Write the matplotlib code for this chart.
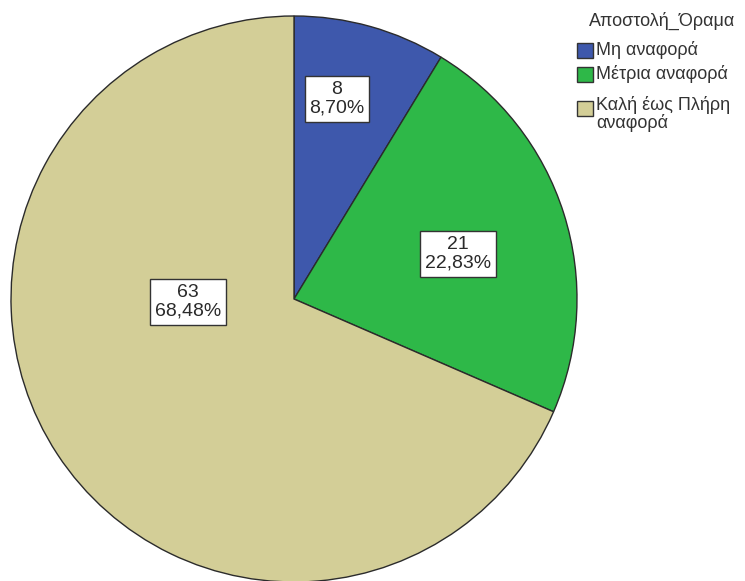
import matplotlib
matplotlib.use("Agg")
import matplotlib.pyplot as plt
from matplotlib.patches import Rectangle

# Data
categories = ["Μη αναφορά", "Μέτρια αναφορά", "Καλή έως Πλήρη\nαναφορά"]
counts = [8, 21, 63]
percent_labels = ["8,70%", "22,83%", "68,48%"]
colors = ["#3e58ac", "#2eb848", "#d3ce97"]
legend_title = "Αποστολή_Όραμα"

plt.rcParams["font.family"] = ["Liberation Sans", "DejaVu Sans"]

W, H = 745, 581
fig = plt.figure(figsize=(W / 100, H / 100), dpi=100)
ax = fig.add_axes([0, 0, 1, 1])

cx, cy, r = 294, H - 299, 283
ax.pie(counts, colors=colors, startangle=90, counterclock=False,
       center=(cx, cy), radius=r, frame=True,
       wedgeprops=dict(edgecolor="#2b2b2b", linewidth=1.0))
ax.set_xlim(0, W)
ax.set_ylim(0, H)
ax.set_aspect("equal")
ax.axis("off")

# Value boxes inside the slices
label_pos = [(337, H - 99), (458, H - 254), (188, H - 302)]
for (x, y), n, p in zip(label_pos, counts, percent_labels):
    ax.text(x, y, f"{n}\n{p}", ha="center", va="center", fontsize=14,
            color="#2a2a2a", linespacing=1.12,
            bbox=dict(boxstyle="square,pad=0.25", fc="white", ec="#333333", lw=1))

# Legend
ax.text(589, H - 21, legend_title, ha="left", va="center", fontsize=13, color="#333333")
patch_centers = [50, 74, 108]
text_centers = [50, 74, 114]
for pc, tc, lab, col in zip(patch_centers, text_centers, categories, colors):
    ax.add_patch(Rectangle((577, H - pc - 7.5), 16, 15, fc=col, ec="#333333", lw=1))
    ax.text(596, H - tc, lab, ha="left", va="center", fontsize=13,
            color="#333333", linespacing=1.0)

fig.savefig("out.png", dpi=100)
